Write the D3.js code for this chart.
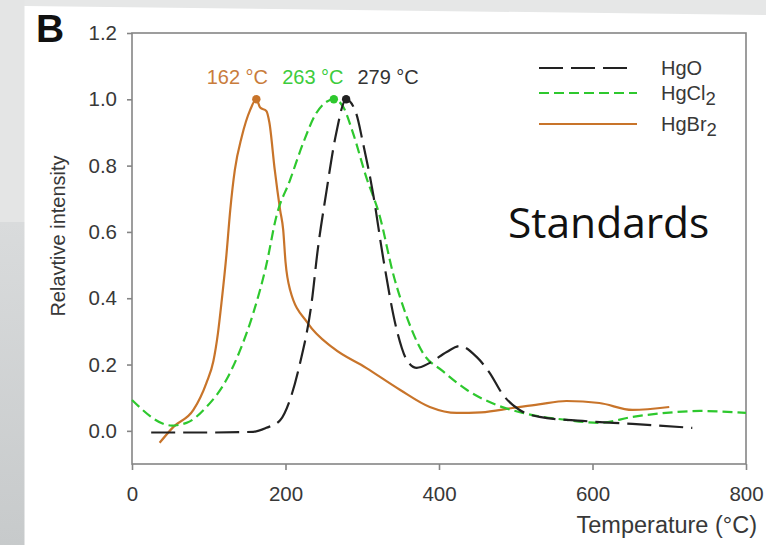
<!DOCTYPE html>
<html>
<head>
<meta charset="utf-8">
<script src="https://cdn.jsdelivr.net/npm/d3@7"></script>
<style>
  html, body { margin: 0; padding: 0; background: #fff; }
  svg { display: block; }
  text { font-family: "Liberation Sans", Arial, sans-serif; }
</style>
</head>
<body>
<svg id="chart" width="766" height="545"></svg>
<script>
// Thermal desorption profiles of mercury standards
const seriesNames = ["HgO", "HgCl2", "HgBr2"];

const hgoTemp = [25, 100, 158, 175, 193, 206, 219, 234, 242, 253, 266, 279, 292, 301, 314, 327, 345, 358, 371, 388, 410, 427, 449, 466, 483, 505, 531, 587, 652, 730];
const hgoIntensity = [-0.005, -0.005, -0.003, 0.009, 0.032, 0.095, 0.205, 0.386, 0.546, 0.717, 0.897, 1.0, 0.958, 0.868, 0.717, 0.525, 0.304, 0.214, 0.19, 0.205, 0.238, 0.256, 0.223, 0.175, 0.11, 0.063, 0.042, 0.03, 0.021, 0.009];

const hgcl2Temp = [0, 52, 71, 97, 123, 141, 158, 175, 188, 206, 223, 240, 263, 275, 288, 305, 323, 340, 358, 379, 405, 436, 475, 509, 566, 609, 652, 700, 740, 800];
const hgcl2Intensity = [0.093, 0.016, 0.024, 0.072, 0.154, 0.244, 0.355, 0.5, 0.646, 0.757, 0.868, 0.958, 1.0, 0.978, 0.898, 0.767, 0.646, 0.476, 0.344, 0.235, 0.18, 0.124, 0.078, 0.054, 0.033, 0.024, 0.042, 0.055, 0.06, 0.054];

const hgbr2Temp = [36, 54, 80, 97, 106, 112, 117, 123, 128, 134, 143, 154, 162, 167, 175, 179, 186, 193, 197, 200, 206, 229, 262, 305, 349, 388, 423, 455, 496, 530, 566, 609, 652, 700];
const hgbr2Intensity = [-0.036, 0.012, 0.063, 0.145, 0.21, 0.295, 0.395, 0.53, 0.666, 0.787, 0.887, 0.968, 1.0, 0.975, 0.965, 0.93, 0.787, 0.666, 0.606, 0.51, 0.425, 0.325, 0.25, 0.19, 0.124, 0.072, 0.054, 0.056, 0.069, 0.08, 0.09, 0.084, 0.063, 0.072];

// Peak temperatures (°C) and their relative intensity
const peakTemps = [162, 263, 279];
const peakSeries = ["HgBr2", "HgCl2", "HgO"];
const peakIntensity = 1.0;

const xTicks = [0, 200, 400, 600, 800];
const yTicks = [0.0, 0.2, 0.4, 0.6, 0.8, 1.0, 1.2];

const svg = d3.select("#chart");
const W = 766, H = 545;

// ---- backdrop panels ----
svg.append("rect").attr("width", W).attr("height", H).attr("fill", "#ffffff");
svg.append("polygon")
  .attr("points", "0,0 766,0 766,15 25,6 0,6")
  .attr("fill", "#e6e7e7");
const defs = svg.append("defs");
const lg = defs.append("linearGradient").attr("id", "sideShade")
  .attr("x1", 0).attr("y1", 0).attr("x2", 0).attr("y2", 1);
lg.append("stop").attr("offset", "0%").attr("stop-color", "#d9dbdc");
lg.append("stop").attr("offset", "100%").attr("stop-color", "#c7cacb");
svg.append("rect").attr("x", 0).attr("y", 0).attr("width", 24.5).attr("height", 222).attr("fill", "#e4e5e5");
svg.append("rect").attr("x", 0).attr("y", 222).attr("width", 24.5).attr("height", H - 222).attr("fill", "url(#sideShade)");

// ---- plot area ----
const plot = { left: 132, right: 746, top: 33, bottom: 464 };
const x = d3.scaleLinear().domain([0, 800]).range([plot.left, plot.right]);
const y = d3.scaleLinear().domain([-0.1, 1.2]).range([plot.bottom, plot.top]);

const axisColor = "#858585";
const labelColor = "#383838";

// frame
svg.append("rect")
  .attr("x", plot.left).attr("y", plot.top)
  .attr("width", plot.right - plot.left).attr("height", plot.bottom - plot.top)
  .attr("fill", "none").attr("stroke", axisColor).attr("stroke-width", 1.6);

// y axis
const yAxis = svg.append("g")
  .attr("transform", `translate(${plot.left},0)`)
  .call(d3.axisLeft(y).tickValues(yTicks).tickFormat(d3.format(".1f")).tickSize(5).tickSizeOuter(0).tickPadding(10));
yAxis.select(".domain").remove();
yAxis.selectAll(".tick line").attr("stroke", axisColor).attr("stroke-width", 1.6);
yAxis.selectAll(".tick text").attr("fill", labelColor).style("font-size", "20.5px")
  .style("font-family", '"Liberation Sans", Arial, sans-serif');

// x axis
const xAxis = svg.append("g")
  .attr("transform", `translate(0,${plot.bottom})`)
  .call(d3.axisBottom(x).tickValues(xTicks).tickFormat(d3.format("d")).tickSize(6).tickSizeOuter(0).tickPadding(16));
xAxis.select(".domain").remove();
xAxis.selectAll(".tick line").attr("stroke", axisColor).attr("stroke-width", 1.6);
xAxis.selectAll(".tick text").attr("fill", labelColor).style("font-size", "20.5px")
  .style("font-family", '"Liberation Sans", Arial, sans-serif');

// axis titles
svg.append("text")
  .attr("x", 757).attr("y", 533)
  .attr("text-anchor", "end")
  .attr("fill", labelColor)
  .style("font-size", "23.5px")
  .text("Temperature (°C)");

svg.append("text")
  .attr("transform", "translate(65,236) rotate(-90)")
  .attr("text-anchor", "middle")
  .attr("fill", labelColor)
  .style("font-size", "20px")
  .text("Relavtive intensity");

// panel letter
svg.append("text")
  .attr("x", 36).attr("y", 42)
  .attr("fill", "#111")
  .style("font-size", "39px").style("font-weight", "bold")
  .text("B");

// ---- series ----
const styles = {
  HgO:   { color: "#222222", dash: "24,8", width: 2.2, legendEnd: 627 },
  HgCl2: { color: "#2ec82e", dash: "10,5", width: 2.2, legendEnd: 637 },
  HgBr2: { color: "#c8742a", dash: null,   width: 2.2, legendEnd: 637 }
};
const textColors = { HgO: "#333333", HgCl2: "#3ccc3c", HgBr2: "#c97c3c" };

const series = {
  HgO:   hgoTemp.map((t, i) => [t, hgoIntensity[i]]),
  HgCl2: hgcl2Temp.map((t, i) => [t, hgcl2Intensity[i]]),
  HgBr2: hgbr2Temp.map((t, i) => [t, hgbr2Intensity[i]])
};

const line = d3.line()
  .x(d => x(d[0]))
  .y(d => y(d[1]))
  .curve(d3.curveMonotoneX);

["HgBr2", "HgCl2", "HgO"].forEach(name => {
  const s = styles[name];
  svg.append("path")
    .datum(series[name])
    .attr("d", line)
    .attr("fill", "none")
    .attr("stroke", s.color)
    .attr("stroke-width", s.width)
    .attr("stroke-dasharray", s.dash)
    .attr("stroke-linejoin", "round");
});

// peak markers and labels
const labelShift = { HgBr2: -19, HgCl2: -21, HgO: 42 };
peakTemps.forEach((t, i) => {
  const name = peakSeries[i];
  svg.append("circle")
    .attr("cx", x(t)).attr("cy", y(peakIntensity))
    .attr("r", 4.2)
    .attr("fill", styles[name].color);
  svg.append("text")
    .attr("x", x(t) + labelShift[name]).attr("y", 84)
    .attr("text-anchor", "middle")
    .attr("fill", textColors[name])
    .style("font-size", "20px")
    .text(`${t} °C`);
});

// legend
const legendRows = [68, 93, 124];
seriesNames.forEach((name, i) => {
  const s = styles[name];
  const ly = legendRows[i];
  svg.append("line")
    .attr("x1", 539).attr("x2", s.legendEnd)
    .attr("y1", ly).attr("y2", ly)
    .attr("stroke", s.color)
    .attr("stroke-width", s.width)
    .attr("stroke-dasharray", s.dash);
  const t = svg.append("text")
    .attr("x", 661).attr("y", ly + 7)
    .attr("fill", labelColor)
    .style("font-size", "20px");
  const m = name.match(/^(.*?)(\d*)$/);
  t.append("tspan").text(m[1]);
  if (m[2]) {
    t.append("tspan").attr("dy", 5).style("font-size", "18.5px").text(m[2]);
  }
});

// annotation
svg.append("text")
  .attr("x", 508).attr("y", 238)
  .attr("fill", "#111")
  .style("font-family", '"Open Sans", "Noto Sans", sans-serif')
  .style("font-size", "42.5px")
  .text("Standards");
</script>
</body>
</html>
